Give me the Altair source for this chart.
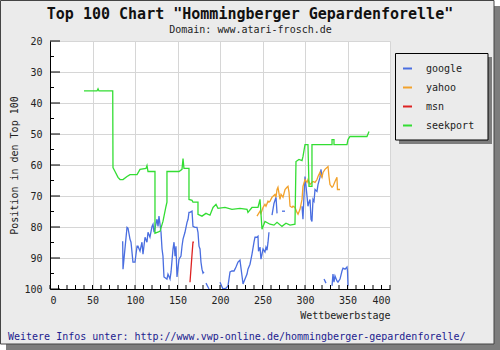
import altair as alt
import pandas as pd

# ---------------- data ----------------
engines = ["google", "yahoo", "msn", "seekport"]
colors = ["#4a6ee0", "#f2a22c", "#dd2222", "#33dd33"]

seekport_day = [40, 55.3, 56.5, 57.6, 73.8, 74.1, 76.5, 80, 82.4, 85.9, 90.6, 94.1, 102.4, 105.9, 112.9, 114.1, 115.3,
                123.5, 123.5, 129.4, 132.9, 136.5, 137.6, 137.6, 151.8, 155.3, 156.5, 157.6, 163.5, 163.5, 167.1, 168.2,
                174.1, 174.1, 178.8, 183.5, 188.2, 191.8, 195.3, 197.6, 205.9, 214.1, 223.5, 231.8, 232.9, 237.6, 244.7,
                247.1, 249.4, 252.9, 258.8, 263.5, 267.1, 272.9, 277.6, 282.4, 288.2, 289.4, 292.9, 296.5, 297.6, 300,
                303.5, 304.7, 308.2, 308.2, 331.8, 331.8, 334.1, 334.1, 349.4, 350.6, 352.9, 372.9, 375.3]
seekport_pos = [36.1, 36.1, 35.4, 36.1, 36.1, 60.8, 62.1, 64.0, 64.7, 64.7, 63.7, 63.1, 63.1, 61.4, 61.1, 60.2, 62.1,
                62.1, 82.0, 81.4, 78.2, 73.3, 72.0, 62.1, 62.1, 61.4, 57.9, 61.1, 61.1, 71.1, 71.4, 72.0,
                72.0, 75.9, 76.5, 75.6, 76.2, 73.7, 72.7, 74.0, 73.7, 74.3, 74.0, 74.3, 75.3, 73.7, 73.7,
                71.1, 80.7, 78.2, 79.1, 79.4, 78.5, 79.8, 78.8, 79.4, 79.1, 58.9, 58.2, 58.6, 57.3, 53.4,
                53.4, 66.9, 66.9, 53.4, 53.4, 51.8, 51.8, 53.4, 53.4, 51.8, 50.8, 50.8, 49.2]

# google has gaps: one list per segment
google_day = [
    [85.5, 85.9, 90.6, 91.8, 94.1, 95.3, 97.6, 100, 102.4, 103.5, 105.9, 108.2, 109.4, 111.8, 114.1, 115.3, 117.6,
     120, 121.2, 122.4, 125.9, 127.1, 128.2, 130.6, 131.8, 132.9, 134.1, 137.6, 138.8, 141.2, 142.4, 144.7, 145.9,
     147.1, 148.2, 149.4, 151.8, 154.1, 155.3, 156.5, 158.8, 161.2, 162.4, 163.5, 164.7, 167.1, 168.2, 170.6, 172.9,
     174.1, 175.3, 176.5, 177.6, 178.8, 180, 181.2],
    [183.5, 187.1],
    [200, 203.5, 207.1, 209.4, 211.8, 214.1, 216.5, 217.6, 218.8, 221.2, 223.5, 225.9, 227.1, 229.4, 231.8, 232.9,
     235.3, 236.5, 237.6, 240, 241.2, 243.5, 244.7, 245.3, 247.1, 248.2, 249.4, 250.6, 252.9, 254.1, 255.3, 256.5,
     257.6],
    [261.2, 263.5, 265.9, 267.1],
    [272.9, 276.5],
    [296.5, 297.6, 298.8, 300, 301.2, 302.4, 303.5, 304.7, 305.9, 307.1, 308.2, 309.4, 310.6, 311.8, 314.1, 315.3,
     317.6, 318.8, 320],
    [322.4, 324.7],
    [331.8, 332.9, 334.1, 335.3, 337.6, 338.8, 341.2, 343.5, 344.7, 347.1, 349.4, 350, 350.6],
]
google_pos = [
    [84.6, 93.6, 80.1, 80.4, 83.9, 84.9, 91.3, 91.3, 86.2, 86.2, 87.8, 84.9, 88.8, 83.3, 84.9, 81.7, 83.3,
     79.8, 79.1, 81.7, 77.5, 79.8, 76.5, 81.7, 87.1, 89.4, 96.1, 96.8, 95.2, 96.8, 94.5, 87.1, 84.9,
     89.4, 86.2, 96.1, 90.4, 89.4, 86.2, 83.9, 81.7, 78.5, 77.5, 75.3, 75.3, 74.9, 79.8, 80.1, 80.1,
     81.7, 86.2, 87.1, 91.3, 93.6, 94.9, 94.5],
    [98.1, 100],
    [97.8, 100, 99.7, 99.0, 94.5, 94.2, 94.2, 93.6, 92.9, 91.3, 90.7, 95.8, 98.4, 96.8, 95.2, 93.6,
     92.0, 90.4, 88.8, 84.9, 83.3, 83.3, 83.0, 87.8, 86.5, 90.4, 88.8, 87.1, 88.1, 86.5, 87.5, 84.9,
     81.7],
    [76.2, 72.4, 70.4, 75.6],
    [74.9, 74.9],
    [73.3, 77.5, 70.1, 63.7, 66.9, 70.1, 73.3, 72.0, 71.1, 77.5, 78.2, 71.1, 71.7, 67.9, 68.5, 66.3,
     64.0, 61.4, 64.0],
    [96.8, 98.1],
    [99.0, 95.2, 97.8, 95.8, 97.4, 97.8, 96.8, 94.2, 93.3, 93.6, 92.9, 94.2, 99.0],
]

yahoo_day = [243.5, 247.1, 248.2, 250.6, 252.9, 254.1, 256.5, 257.6, 258.8, 261.2, 262.4, 264.7, 265.9, 267.1, 268.2,
             270.6, 271.8, 274.1, 276.5, 278.8, 280, 281.2, 282.4, 284.7, 285.9, 288.2, 290.6, 291.8, 294.1, 296.5,
             297.6, 300, 302.4, 303.5, 305.9, 308.2, 309.4, 311.8, 314.1, 315.3, 317.6, 320, 321.2, 323.5, 325.9,
             327.1, 328.2, 329.4, 331.8, 332.9, 335.3, 337.6, 338.2, 341.2]
yahoo_pos = [76.5, 74.9, 75.6, 73.7, 72.7, 73.3, 71.7, 72.0, 71.7, 70.4, 70.1, 69.5, 70.4, 67.9, 67.2,
             71.1, 69.5, 70.4, 67.9, 67.2, 66.9, 68.8, 73.3, 73.7, 73.3, 73.7, 75.3, 75.9, 74.3, 71.1,
             66.9, 64.7, 65.6, 64.7, 66.3, 65.6, 65.3, 65.6, 64.7, 63.7, 62.4, 64.0, 62.4, 61.4, 60.8,
             60.5, 63.7, 66.3, 67.2, 66.9, 65.3, 64.0, 67.9, 67.9]

msn_day = [164.7, 167.1, 168.2, 169.4]
msn_pos = [97.8, 88.8, 84.9, 84.9]

x_label_values = [0, 50, 100, 150, 200, 250, 300, 350, 400]
y_label_values = [20, 30, 40, 50, 60, 70, 80, 90, 100]
x_minor_ticks = list(range(0, 401, 10))
y_minor_ticks = [25, 35, 45, 55, 65, 75, 85, 95]

title_text = 'Top 100 Chart "Hommingberger Gepardenforelle"'
subtitle_text = "Domain: www.atari-frosch.de"
footer_text = "Weitere Infos unter: http://www.vwp-online.de/hommingberger-gepardenforelle/"
x_title = "Wettbewerbstage"
y_title = "Position in den Top 100"

# ---------------- build table ----------------
rows = []
def add(engine, seg, days, poss):
    for j, (d, p) in enumerate(zip(days, poss)):
        rows.append({"engine": engine, "seg": f"{engine}-{seg}", "idx": j, "day": d, "pos": p})

for i, (d, p) in enumerate(zip(google_day, google_pos)):
    add("google", i, d, p)
add("yahoo", 0, yahoo_day, yahoo_pos)
add("msn", 0, msn_day, msn_pos)
add("seekport", 0, seekport_day, seekport_pos)
df = pd.DataFrame(rows)

FONT = "DejaVu Sans Mono"
W, H = 340, 248
xscale = alt.Scale(domain=[0, 400], nice=False, zero=False)
yscale = alt.Scale(domain=[20, 100], nice=False, zero=False, reverse=True)
xaxis = alt.Axis(values=x_label_values, title=x_title, titleAnchor="end", grid=True,
                 ticks=False, labelPadding=6, titlePadding=5)
yaxis = alt.Axis(values=y_label_values, title=y_title, grid=True, ticks=False,
                 labelPadding=8, titlePadding=4)

one = pd.DataFrame({"k": [0]})

def deco_rect(x, x2, y, y2, fill=None, stroke=None):
    kw = {}
    if fill:
        kw["fill"] = fill
    else:
        kw["fillOpacity"] = 0
    if stroke:
        kw["stroke"] = stroke
        kw["strokeWidth"] = 1
    return alt.Chart(one).mark_rect(**kw).encode(
        x=alt.value(x), x2=alt.value(x2), y=alt.value(y), y2=alt.value(y2))

# frame shadow + border
shadow_r = deco_rect(444, 450, -35, 309, fill="#7d7d7d")
shadow_b = deco_rect(-44, 450, 303, 309, fill="#7d7d7d")
corner1 = deco_rect(444, 450, -41, -35, fill="white")
corner2 = deco_rect(-50, -44, 303, 309, fill="white")
border = deco_rect(-49.5, 444, -40.5, 303, stroke="#444444")

# legend box + shadow
leg_shadow = deco_rect(349, 442, 16, 103, fill="#7d7d7d")
leg_box = deco_rect(345.5, 438, 12.5, 99, fill="#ebebeb", stroke="black")

lines = alt.Chart(df).mark_line(strokeWidth=1.3, clip=True).encode(
    x=alt.X("day:Q", scale=xscale, axis=xaxis),
    y=alt.Y("pos:Q", scale=yscale, axis=yaxis),
    color=alt.Color("engine:N", scale=alt.Scale(domain=engines, range=colors),
                    legend=alt.Legend(title=None, orient="none", legendX=352, legendY=22,
                                      symbolType="stroke", symbolSize=81, symbolStrokeWidth=2,
                                      labelFont=FONT, labelFontSize=10, labelColor="#222222",
                                      labelOffset=13, rowPadding=8, padding=0, zindex=1)),
    detail="seg:N",
    order="idx:Q",
)

xt = alt.Chart(pd.DataFrame({"day": x_minor_ticks})).mark_rule(color="black").encode(
    x=alt.X("day:Q", scale=xscale, axis=xaxis), y=alt.value(H), y2=alt.value(H - 4))
ytmaj = alt.Chart(pd.DataFrame({"pos": y_label_values})).mark_rule(color="black").encode(
    y=alt.Y("pos:Q", scale=yscale, axis=yaxis), x=alt.value(0), x2=alt.value(10))
ytmin = alt.Chart(pd.DataFrame({"pos": y_minor_ticks})).mark_rule(color="black").encode(
    y=alt.Y("pos:Q", scale=yscale, axis=yaxis), x=alt.value(0), x2=alt.value(4))

def text_layer(txt, x, y, size, weight="normal", color="#111111", align="center"):
    return alt.Chart(pd.DataFrame({"s": [txt]})).mark_text(
        font=FONT, fontSize=size, fontWeight=weight, color=color, align=align, baseline="alphabetic"
    ).encode(text="s:N", x=alt.value(x), y=alt.value(y))

title = text_layer(title_text, 200, -22.5, 15, weight="bold")
subtitle = text_layer(subtitle_text, 200.5, -8.5, 10, color="#222222")
footer = text_layer(footer_text, -42, 298.5, 10, color="#1c1c8f", align="left")

chart = alt.layer(
    shadow_r, shadow_b, corner1, corner2, border, leg_shadow, leg_box,
    lines, xt, ytmaj, ytmin, title, subtitle, footer
).properties(
    width=W, height=H,
    autosize=alt.AutoSizeParams(type="none"),
    padding={"left": 50, "top": 41, "right": 110, "bottom": 61},
    background="#ebebeb",
).configure_view(
    fill="white", stroke=None
).configure_axis(
    labelFont=FONT, labelFontSize=10, labelColor="#222222",
    titleFont=FONT, titleFontSize=10, titleFontWeight="normal", titleColor="#222222",
    domainColor="black", domainWidth=1, gridColor="#d6d6d6", gridWidth=1,
)

chart.save("out.html", embed_options={"renderer": "svg", "actions": False})
